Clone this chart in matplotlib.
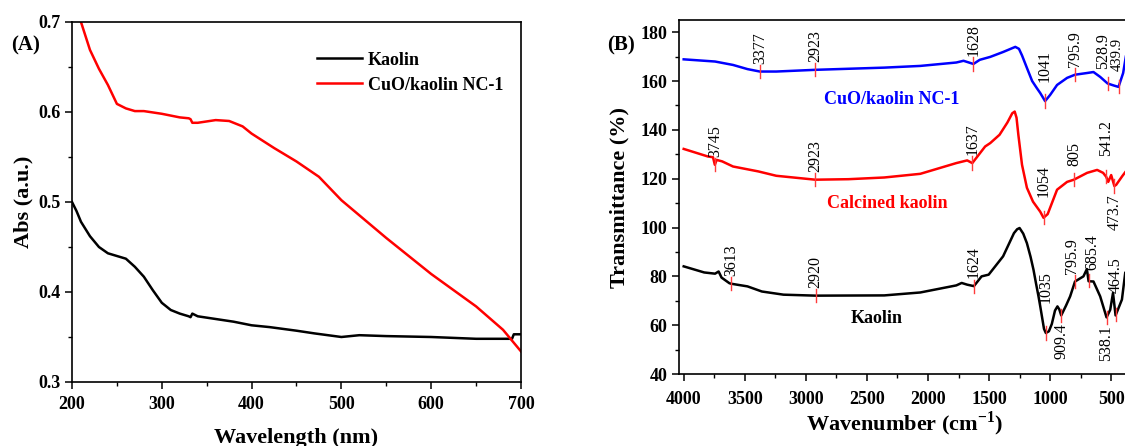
import matplotlib
matplotlib.use("Agg")
import matplotlib.pyplot as plt
import numpy as np
from matplotlib.ticker import MultipleLocator

plt.rcParams["font.family"] = ["Liberation Serif", "DejaVu Serif"]
plt.rcParams["mathtext.fontset"] = "custom"
plt.rcParams["mathtext.rm"] = "Liberation Serif"
plt.rcParams["mathtext.bf"] = "Liberation Serif:bold"

# ---- (A) UV-vis absorbance ----
wl_kaolin = [200, 205, 210, 220, 230, 240, 250, 260, 270, 280, 290, 300, 310, 320,
             330, 332, 334, 340, 360, 380, 400, 420, 450, 470, 500, 520, 550, 600,
             650, 690, 692, 700]
abs_kaolin = [0.500, 0.490, 0.478, 0.462, 0.450, 0.443, 0.440, 0.437, 0.428, 0.417,
              0.402, 0.388, 0.380, 0.376, 0.373, 0.372, 0.376, 0.373, 0.370, 0.367,
              0.363, 0.361, 0.357, 0.354, 0.350, 0.352, 0.351, 0.350, 0.348, 0.348,
              0.353, 0.353]

wl_cuo = [200, 210, 220, 230, 240, 250, 260, 270, 280, 300, 320, 330, 332, 334, 340,
          360, 375, 390, 400, 425, 450, 475, 500, 550, 600, 650, 680, 700]
abs_cuo = [0.735, 0.700, 0.669, 0.648, 0.630, 0.609, 0.604, 0.601, 0.601, 0.598,
           0.594, 0.593, 0.592, 0.588, 0.588, 0.591, 0.590, 0.584, 0.576, 0.560,
           0.545, 0.528, 0.502, 0.460, 0.420, 0.384, 0.358, 0.334]

# ---- (B) FTIR spectra ----
wn_cuo = [4000, 3743, 3596, 3478, 3377, 3242, 2923, 2358, 2063, 1768, 1709, 1665,
          1628, 1576, 1490, 1385, 1285, 1255, 1230, 1190, 1147, 1110, 1081, 1041,
          1000, 943, 861, 796, 697, 645, 590, 529, 480, 440, 402, 380]
t_cuo = [168.9, 168.0, 166.6, 164.9, 163.9, 163.9, 164.6, 165.5, 166.2, 167.6, 168.3,
         167.6, 167.0, 168.7, 169.9, 171.9, 174.0, 173.2, 170.5, 165.4, 160.0, 157.2,
         155.1, 151.8, 154.3, 158.4, 161.3, 162.6, 163.3, 163.7, 161.7, 159.0, 158.2,
         157.6, 163.3, 170.0]

wn_calc = [4000, 3891, 3802, 3760, 3745, 3730, 3685, 3596, 3390, 3242, 2923, 2652,
           2358, 2063, 1768, 1679, 1637, 1532, 1490, 1414, 1350, 1310, 1290, 1275,
           1260, 1230, 1190, 1140, 1081, 1054, 1020, 1000, 943, 861, 805, 697, 615,
           566, 541, 524, 500, 474, 459, 410, 380]
t_calc = [132.2, 130.5, 129.1, 128.8, 125.7, 127.7, 127.1, 125.0, 123.0, 121.2, 119.6,
          119.8, 120.5, 122.0, 126.4, 127.5, 126.4, 133.2, 134.6, 138.0, 143.0, 146.8,
          147.5, 145.0, 138.0, 125.7, 116.3, 110.6, 106.5, 104.0, 105.5, 108.1, 115.5,
          118.7, 119.6, 122.4, 123.6, 122.4, 120.8, 118.7, 121.5, 117.0, 117.5, 121.0,
          123.0]

wn_kaolin = [4000, 3832, 3743, 3714, 3690, 3626, 3613, 3478, 3360, 3183, 2920, 2358,
             2063, 1768, 1724, 1679, 1624, 1561, 1503, 1385, 1296, 1270, 1250, 1220,
             1190, 1160, 1136, 1115, 1095, 1080, 1067, 1050, 1035, 1010, 986, 960,
             940, 925, 909, 870, 836, 796, 727, 699, 685, 645, 590, 538, 508, 485,
             464, 412, 385]
t_kaolin = [84.1, 81.6, 81.1, 82.0, 79.5, 77.2, 77.0, 75.9, 73.8, 72.5, 72.1, 72.2,
            73.4, 76.3, 77.3, 76.6, 76.0, 80.0, 80.7, 88.2, 97.7, 99.3, 99.8, 97.5,
            93.6, 88.0, 82.7, 77.0, 71.8, 67.5, 63.6, 58.5, 56.8, 57.5, 60.5, 66.0,
            67.7, 66.5, 64.0, 68.0, 71.8, 77.9, 80.0, 83.0, 78.0, 77.9, 71.8, 63.2,
            66.3, 73.2, 64.0, 70.5, 81.4]

peaks_cuo = ["3377", "2923", "1628", "1041", "795.9", "528.9", "439.9"]
peaks_calc = ["3745", "2923", "1637", "1054", "805", "541.2", "473.7"]
peaks_kaolin = ["3613", "2920", "1624", "1035", "909.4", "795.9", "685.4",
                "538.1", "464.5"]

# labels drawn below the curve, extra lift and sideways nudge (points)
below = {("calc", "473.7"), ("kaolin", "909.4"), ("kaolin", "538.1")}
lift = {("cuo", "1041"): 8, ("calc", "1054"): 9, ("calc", "805"): 4,
        ("calc", "541.2"): 9, ("kaolin", "1035"): 16, ("kaolin", "464.5"): 10,
        ("cuo", "528.9"): 5, ("cuo", "439.9"): 6, ("kaolin", "685.4"): 2}
nudge = {("cuo", "528.9"): -3.0, ("cuo", "439.9"): -0.8,
         ("kaolin", "795.9"): -2.5, ("kaolin", "685.4"): 2.5}
small = {("cuo", "439.9")}

fig = plt.figure(figsize=(11.25, 4.46), dpi=100)

# ---------------- Panel A ----------------
ax1 = fig.add_axes([0.064, 0.1435, 0.3991, 0.8072])
ax1.plot(wl_kaolin, abs_kaolin, color="black", lw=1.8, label="Kaolin")
ax1.plot(wl_cuo, abs_cuo, color="#ff0000", lw=1.8, label="CuO/kaolin NC-1")
ax1.set_xlim(200, 700)
ax1.set_ylim(0.3, 0.7)
ax1.xaxis.set_major_locator(MultipleLocator(100))
ax1.xaxis.set_minor_locator(MultipleLocator(50))
ax1.yaxis.set_major_locator(MultipleLocator(0.1))
ax1.yaxis.set_minor_locator(MultipleLocator(0.05))
ax1.set_xlabel("Wavelength (nm)", fontsize=16, fontweight="bold")
ax1.set_ylabel("Abs (a.u.)", fontsize=16, fontweight="bold")
ax1.xaxis.set_label_coords(0.5, -0.128)
ax1.yaxis.set_label_coords(-0.085, 0.5)
leg = ax1.legend(loc="upper left", bbox_to_anchor=(0.546, 0.918), frameon=False,
                 borderpad=0, borderaxespad=0, handlelength=2.5, handletextpad=0.3,
                 labelspacing=0.45, prop={"weight": "bold", "size": 13})

# ---------------- Panel B ----------------
ax2 = fig.add_axes([0.6036, 0.1614, 0.4004, 0.7937])
ax2.plot(wn_cuo, t_cuo, color="#0000ff", lw=1.8)
ax2.plot(wn_calc, t_calc, color="#ff0000", lw=1.8)
ax2.plot(wn_kaolin, t_kaolin, color="black", lw=1.8)
ax2.set_xlim(4038, 350)
ax2.set_ylim(40, 185)
ax2.xaxis.set_major_locator(MultipleLocator(500))
ax2.xaxis.set_minor_locator(MultipleLocator(250))
ax2.yaxis.set_major_locator(MultipleLocator(20))
ax2.yaxis.set_minor_locator(MultipleLocator(10))
ax2.set_xlabel("Wavenumber (cm$^{\\mathbf{-1}}$)", fontsize=16, fontweight="bold")
ax2.set_ylabel("Transmittance (%)", fontsize=16, fontweight="bold")
ax2.xaxis.set_label_coords(0.5, -0.1)
ax2.yaxis.set_label_coords(-0.11, 0.5)

half = 2.7
for key, wn, tv, peaks in [("cuo", wn_cuo, t_cuo, peaks_cuo),
                           ("calc", wn_calc, t_calc, peaks_calc),
                           ("kaolin", wn_kaolin, t_kaolin, peaks_kaolin)]:
    xs = np.array(wn[::-1], dtype=float)
    ys = np.array(tv[::-1], dtype=float)
    for lab in peaks:
        w = float(lab)
        yv = np.interp(w, xs, ys)
        ax2.plot([w, w], [yv - half, yv + half], color="#ff3b3b", lw=1.0)
        extra = lift.get((key, lab), 0)
        dx = nudge.get((key, lab), 0)
        fs = 10.5 if (key, lab) in small else 11.5
        if (key, lab) in below:
            ax2.annotate(lab, xy=(w, yv - half), xytext=(dx, -1 - extra),
                         textcoords="offset points", rotation=90, ha="center",
                         va="top", fontsize=fs)
        else:
            ax2.annotate(lab, xy=(w, yv + half), xytext=(dx, 1 + extra),
                         textcoords="offset points", rotation=90, ha="center",
                         va="bottom", fontsize=fs)

ax2.text(2293, 152.3, "CuO/kaolin NC-1", color="#0000ff", fontsize=13,
         fontweight="bold", ha="center", va="center")
ax2.text(2335, 109.7, "Calcined kaolin", color="#ff0000", fontsize=13,
         fontweight="bold", ha="center", va="center")
ax2.text(2419, 62.9, "Kaolin", color="black", fontsize=13,
         fontweight="bold", ha="center", va="center")

for ax in (ax1, ax2):
    for sp in ax.spines.values():
        sp.set_linewidth(1.2)
    ax.tick_params(which="major", direction="out", length=5, width=1.1,
                   labelsize=13)
    ax.tick_params(which="minor", direction="out", length=3, width=1.0)
    for t in ax.get_xticklabels() + ax.get_yticklabels():
        t.set_fontweight("bold")
ax1.tick_params(axis="x", which="major", pad=5)
ax2.tick_params(axis="x", which="major", pad=7)

fig.text(26 / 1125, 1 - 45 / 446, "(A)", fontsize=15, fontweight="bold",
         ha="center", va="center")
fig.text(621 / 1125, 1 - 45 / 446, "(B)", fontsize=15, fontweight="bold",
         ha="center", va="center")

fig.savefig("out.png", dpi=100)
